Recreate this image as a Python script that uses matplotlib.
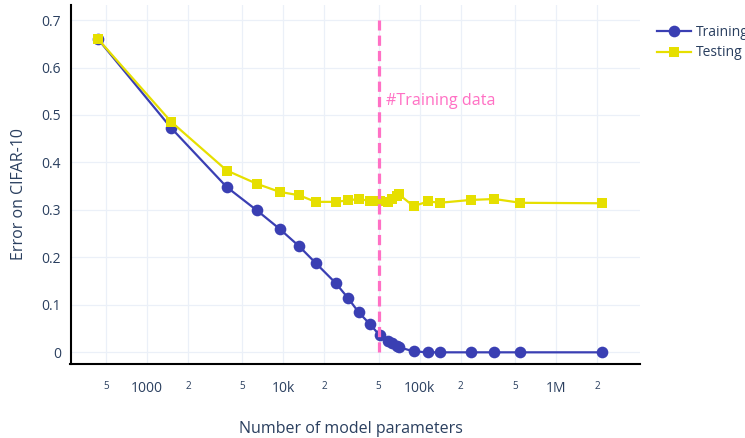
import matplotlib
matplotlib.use("Agg")
import matplotlib.pyplot as plt
import numpy as np

plt.rcParams['font.family'] = ['Open Sans', 'DejaVu Sans']

# Data
params = [437, 1500, 3850, 6400, 9400, 13000, 17300, 24200, 29700, 35800, 43000,
          50900, 58300, 62400, 67900, 70200, 90300, 116000, 140000, 237000,
          354000, 549000, 2190000]
train_err = [0.660, 0.473, 0.348, 0.299, 0.260, 0.224, 0.188, 0.146, 0.115, 0.084,
             0.060, 0.036, 0.024, 0.019, 0.014, 0.011, 0.002, 0.0, 0.0, 0.0,
             0.0, 0.0, 0.0]
test_err = [0.660, 0.486, 0.383, 0.355, 0.338, 0.331, 0.317, 0.317, 0.320, 0.323,
            0.319, 0.319, 0.317, 0.323, 0.330, 0.333, 0.308, 0.318, 0.315, 0.321,
            0.323, 0.315, 0.314]
n_training = 50000
xtick_vals = [500, 1000, 2000, 5000, 10000, 20000, 50000, 100000, 200000,
              500000, 1000000, 2000000]
xtick_labels = ["5", "1000", "2", "5", "10k", "2", "5", "100k", "2", "5", "1M", "2"]
ytick_vals = [0, 0.1, 0.2, 0.3, 0.4, 0.5, 0.6, 0.7]
ytick_labels = ["0", "0.1", "0.2", "0.3", "0.4", "0.5", "0.6", "0.7"]

TXT = '#2a3f5f'
GRID = '#EBF0F8'
BLUE = '#3a3fb3'
YEL = '#e6df00'
PINK = '#ff70c4'

fig = plt.figure(figsize=(7.45, 4.38), dpi=100)
ax = fig.add_axes([70.5/745, 1-364/438, (640-70.5)/745, (364-5)/438])

ax.set_xscale('log')
ax.set_xlim(10**2.4387, 10**6.617)
ax.set_ylim(-0.0246, 0.7317)

ax.plot(params, train_err, color=BLUE, lw=1.6, marker='o', ms=8.4, mew=0,
        label='Training', zorder=3)
ax.plot(params, test_err, color=YEL, lw=1.6, marker='s', ms=7.8, mew=0,
        label='Testing', zorder=4)

ax.plot([n_training, n_training], [0, 0.7], color=PINK, lw=2.3,
        dashes=(3.2, 1.6), zorder=5)
ax.annotate('#Training data', xy=(n_training, 0.529), xytext=(5, 0),
            textcoords='offset points', color=PINK, fontsize=11.6,
            va='center', ha='left')

ax.set_xticks(xtick_vals)
ax.set_xticklabels(xtick_labels)
ax.minorticks_off()
for v, lab in zip(xtick_vals, ax.get_xticklabels()):
    if lab.get_text() in ("2", "5"):
        lab.set_fontsize(7.2)
    else:
        lab.set_fontsize(10)
ax.set_yticks(ytick_vals)
ax.set_yticklabels(ytick_labels, fontsize=10)
ax.tick_params(axis='both', length=0, colors=TXT)
ax.tick_params(axis='x', pad=12)
ax.tick_params(axis='y', pad=7)

ax.grid(True, color=GRID, lw=0.9)
ax.set_axisbelow(True)
for s in ['top', 'right']:
    ax.spines[s].set_visible(False)
for s in ['left', 'bottom']:
    ax.spines[s].set_color('black')
    ax.spines[s].set_linewidth(1.5)

fig.text(351/745, 1-429/438, 'Number of model parameters', ha='center',
         va='center', fontsize=11.5, color=TXT)
fig.text(19/745, 1-194/438, 'Error on CIFAR-10', ha='center', va='center',
         rotation=90, fontsize=11.5, color=TXT)

fig.legend(loc='upper left', bbox_to_anchor=(651/745, 1-19/438),
           frameon=False, fontsize=10, handlelength=2.5, handletextpad=0.35,
           labelcolor=TXT, borderaxespad=0, labelspacing=0.42)

fig.savefig('out.png', dpi=100)
